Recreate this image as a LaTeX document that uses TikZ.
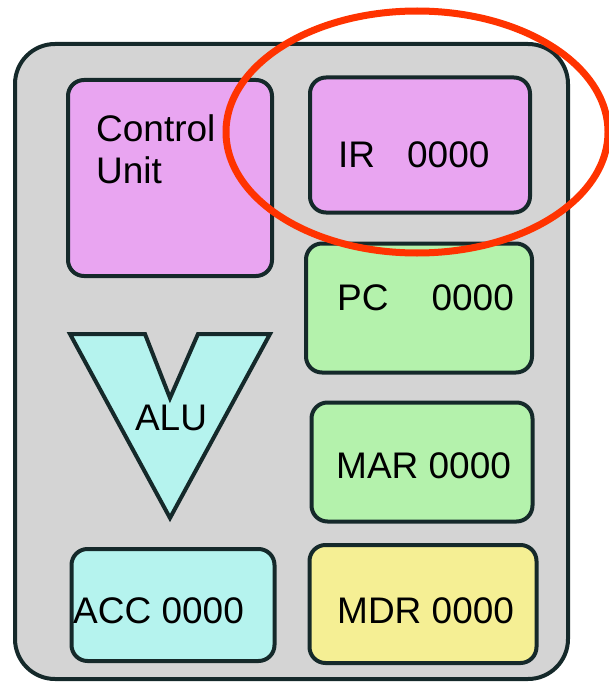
\documentclass[tikz,border=0pt]{standalone}
\usepackage{fontspec}
\setmainfont{Liberation Sans}
\usepackage{tikz}
\usetikzlibrary{calc}
\definecolor{cpugray}{HTML}{D4D4D4}
\definecolor{edge}{HTML}{15292A}
\definecolor{cupink}{HTML}{E9A5F1}
\definecolor{reggreen}{HTML}{B4F2AC}
\definecolor{alucyan}{HTML}{B5F3EE}
\definecolor{mdryellow}{HTML}{F5EF94}
\definecolor{ringred}{HTML}{FF3300}

\begin{document}
\begin{tikzpicture}[x=1pt,y=-1pt,
    reg/.style={draw=edge,line width=4pt,rounded corners=16pt,inner sep=0pt},
    lbl/.style={inner sep=0pt,font=\fontsize{37}{42}\selectfont}]
        \useasboundingbox (0,0) rectangle (609,682);
        \draw[fill=cpugray,draw=edge,line width=4pt,rounded corners=40pt] (15,44) rectangle (568,679);
        % left column
        \node[reg,fill=cupink,minimum width=204pt,minimum height=196pt] (cu) at (170,178) {};
        \node[lbl,anchor=north west,align=left] (cutxt) at (96,114) {Control\\Unit};
        \draw[fill=alucyan,draw=edge,line width=4pt] (70,334) -- (145,334) -- (170,398) -- (198,334)
              -- (270,334) -- (170,518) -- cycle;
        \node[lbl,anchor=base] (alu) at (171,430) {ALU};
        \node[reg,fill=alucyan,minimum width=203pt,minimum height=112pt] (acc) at (173,605) {};
        \node[lbl,anchor=base west] (acctxt) at (73,623) {ACC 0000};
        % right column
        \node[reg,fill=cupink,minimum width=220pt,minimum height=135pt] (ir) at (420,145) {};
        \node[lbl,anchor=base west] (irtxt) at (338,167) {IR\hspace{32pt}0000};
        \node[reg,fill=reggreen,minimum width=226pt,minimum height=129pt] (pc) at (419,308) {};
        \node[lbl,anchor=base west] (pctxt) at (337,310) {PC\hspace{43pt}0000};
        \node[reg,fill=reggreen,minimum width=221pt,minimum height=119pt] (mar) at (422,462) {};
        \node[lbl,anchor=base west] (martxt) at (336,478) {MAR 0000};
        \node[reg,fill=mdryellow,minimum width=227pt,minimum height=118pt] (mdr) at (423,604) {};
        \node[lbl,anchor=base west] (mdrtxt) at (337,623) {MDR 0000};
        % highlight
        \draw[ringred,line width=7pt] (417,132) ellipse [x radius=191pt,y radius=121pt];
\end{tikzpicture}
\end{document}
